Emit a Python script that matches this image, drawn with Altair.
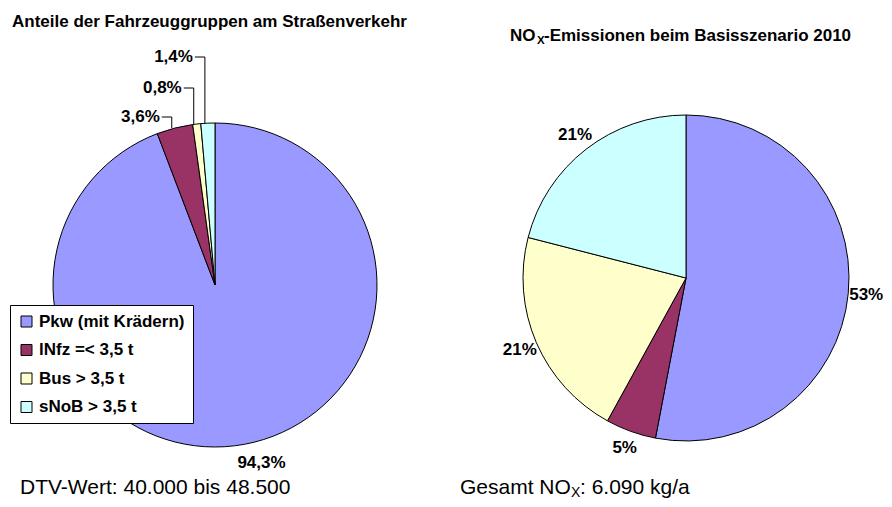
import math
import altair as alt
import pandas as pd

# ---------------- data ----------------
categories = ["Pkw (mit Krädern)", "lNfz =< 3,5 t", "Bus > 3,5 t", "sNoB > 3,5 t"]
share_values = [94.3, 3.6, 0.8, 1.4]
share_labels = ["94,3%", "3,6%", "0,8%", "1,4%"]
nox_values = [53, 5, 21, 21]
nox_labels = ["53%", "5%", "21%", "21%"]
colors = ["#9999FF", "#993366", "#FFFFCC", "#CCFFFF"]

title_left = "Anteile der Fahrzeuggruppen am Straßenverkehr"
title_right_parts = ["NO", "X", "-Emissionen beim Basisszenario 2010"]
note_left = "DTV-Wert: 40.000 bis 48.500"
note_right_parts = ["Gesamt NO", "X", ": 6.090 kg/a"]

# ---------------- layout ----------------
FONT = "Liberation Sans"
W, H = 876, 491
LCX, LCY, LR = 207, 277, 162
RCX, RCY, RR = 678, 270, 163
LEADER_Y = [None, 109, 80, 49]   # label rows for the small slices (left pie)

df_left = pd.DataFrame({"cat": categories, "value": share_values,
                        "label": share_labels, "idx": list(range(len(categories)))})
df_right = pd.DataFrame({"cat": categories, "value": nox_values,
                         "label": nox_labels, "idx": list(range(len(categories)))})

color = alt.Color(
    "cat:N",
    scale=alt.Scale(domain=categories, range=colors),
    legend=alt.Legend(
        title=None, orient="none", legendX=2, legendY=297, direction="vertical",
        symbolType="square", symbolSize=121, symbolStrokeColor="black",
        symbolStrokeWidth=1, labelFont=FONT, labelFontSize=17,
        labelFontWeight="bold", labelColor="black", labelLimit=400,
        labelOffset=4, rowPadding=10.5, padding=8, strokeColor="black",
        fillColor="white", cornerRadius=0,
    ),
)


def pie(df, cx, cy, r, label_r, text_filter=None, dx=0, dy=0):
    base = alt.Chart(df).encode(
        theta=alt.Theta("value:Q", stack=True),
        order=alt.Order("idx:Q"),
        x=alt.value(cx), y=alt.value(cy),
    )
    arc = base.mark_arc(radius=r, stroke="black", strokeWidth=1).encode(color=color)
    t = base.transform_calculate(shown=text_filter or "datum.label")
    txt = t.mark_text(radius=label_r, font=FONT, fontSize=17, fontWeight="bold",
                      color="black", align="center", baseline="middle",
                      dx=dx, dy=dy).encode(text="shown:N")
    return alt.layer(arc, txt)


left_pie = pie(df_left, LCX, LCY, LR, 185, "datum.value > 10 ? datum.label : ''", dx=13, dy=-4)
right_pie = pie(df_right, RCX, RCY, RR, 181)

# leader lines for the small slices of the left pie (computed from the data)
total = sum(share_values)
segs, labs = [], []
cum = 0.0
for i, v in enumerate(share_values):
    mid = (cum + v / 2) / total * 2 * math.pi
    cum += v
    if LEADER_Y[i] is None:
        continue
    ax = LCX + LR * math.sin(mid) - 3
    ay = LCY - LR * math.cos(mid)
    ly = LEADER_Y[i]
    segs.append({"x": ax, "y": ay, "x2": ax, "y2": ly})
    segs.append({"x": ax, "y": ly, "x2": ax - 10, "y2": ly})
    labs.append({"x": ax - 12, "y": ly, "label": share_labels[i]})

leader = alt.Chart(pd.DataFrame(segs)).mark_rule(color="black", strokeWidth=1).encode(
    x=alt.X("x:Q", scale=None), y=alt.Y("y:Q", scale=None),
    x2="x2:Q", y2="y2:Q")
leader_text = alt.Chart(pd.DataFrame(labs)).mark_text(
    font=FONT, fontSize=17, fontWeight="bold", color="black",
    align="right", baseline="middle").encode(
    x=alt.X("x:Q", scale=None), y=alt.Y("y:Q", scale=None), text="label:N")

dummy = pd.DataFrame({"a": [0]})


def txt(s, x, y, size, weight="normal"):
    return alt.Chart(dummy).mark_text(
        font=FONT, fontSize=size, fontWeight=weight, color="black",
        align="left", baseline="alphabetic").encode(
        x=alt.value(x), y=alt.value(y), text=alt.value(s))


texts = [
    txt(title_left, 4, 19, 17, "bold"),
    txt(title_right_parts[0], 502, 33, 17, "bold"),
    txt(title_right_parts[1], 529, 36, 11.5, "bold"),
    txt(title_right_parts[2], 536, 33, 17, "bold"),
    txt(note_left, 12, 486, 21),
    txt(note_right_parts[0], 452, 486, 21),
    txt(note_right_parts[1], 563, 489, 14),
    txt(note_right_parts[2], 572, 486, 21),
]

chart = alt.layer(left_pie, right_pie, leader, leader_text, *texts).resolve_scale(
    theta="independent", color="shared"
).properties(width=W, height=H, padding=0, autosize="none").configure_view(stroke=None)

chart.save("out.html", embed_options={"renderer": "svg", "actions": False})
